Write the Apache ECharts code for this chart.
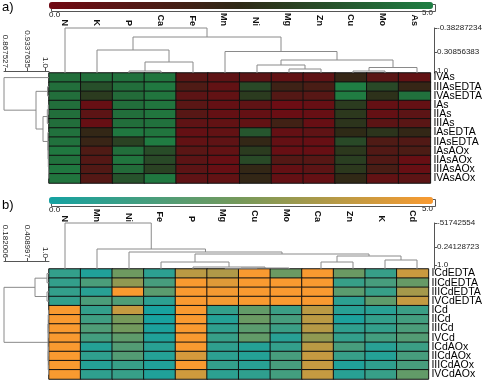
<!DOCTYPE html>
<html><head><meta charset="utf-8">
<script src="https://cdn.jsdelivr.net/npm/echarts@6/dist/echarts.min.js"></script>
<style>html,body{margin:0;padding:0;background:#fff}#c{width:485px;height:383px}</style>
</head><body><div id="c"></div>
<script>
// ---------- panel a) ----------
const colsA = ['N','K','P','Ca','Fe','Mn','Ni','Mg','Zn','Cu','Mo','As'];
const rowsA = ['IVAs','IIIAsEDTA','IVAsEDTA','IAs','IIAs','IIIAs','IAsEDTA','IIAsEDTA','IAsAOx','IIAsAOx','IIIAsAOx','IVAsAOx'];
const valuesA = [
  [4.5,4.5,4.6,4.7,0.9,0.7,0.8,0.6,0.7,2.2,0.9,0.6],
  [4.5,3.6,4.5,4.8,1.3,0.6,3.4,1.9,1.5,5.0,3.4,2.2],
  [4.5,3.0,4.4,4.7,0.8,0.6,3.0,1.1,1.0,4.9,2.7,4.6],
  [4.5,0.4,4.5,4.7,0.9,0.5,0.7,0.2,0.4,3.0,0.5,0.5],
  [4.5,0.8,4.5,4.7,1.0,0.5,0.5,0.3,0.4,2.9,0.5,0.8],
  [4.5,0.4,4.5,4.6,0.7,0.6,0.6,1.8,0.4,2.8,0.8,0.9],
  [4.6,2.3,4.8,4.7,0.5,0.6,3.8,0.5,0.7,2.5,2.8,2.3],
  [4.6,2.1,3.2,4.9,0.6,0.7,2.3,0.5,0.4,3.4,1.3,1.2],
  [4.8,1.3,4.5,3.5,0.9,0.6,3.0,0.4,0.4,2.9,1.2,1.4],
  [4.6,1.1,4.7,3.4,0.8,0.4,3.4,1.1,1.0,3.1,1.2,0.4],
  [4.8,1.2,4.4,3.2,0.8,0.4,2.3,0.5,0.8,2.9,1.5,0.4],
  [4.7,1.1,3.7,4.8,0.7,0.6,2.3,0.5,0.5,2.4,0.6,0.8]
];
// merges: [childA, childB, height]; leaves 0..11, internal nodes numbered 12.. in order
const colTreeA = [[2,3,2],[12,4,11],[1,13,23],[7,8,4],[6,15,8],[9,10,2],[17,11,5.5],[16,18,13],[5,19,21.5],[14,20,36],[0,21,45]];
const rowTreeA = [[3,4,0.7],[12,5,1.7],[10,11,0.3],[9,14,0.5],[8,15,0.7],[7,16,0.9],[6,17,1.1],[13,18,6],[1,2,1.5],[20,19,13],[0,21,45]];
const colScaleTicksA = [2, 21, 45];
const colScaleLabelsA = ['1.0', '0.30856383', '-0.38287234'];
const rowScaleTicksA = [4, 22, 44];
const rowScaleLabelsA = ['1.0', '0.9337635', '0.867527'];

// ---------- panel b) ----------
const colsB = ['N','Mn','Ni','Fe','P','Mg','Cu','Mo','Ca','Zn','K','Cd'];
const rowsB = ['ICdEDTA','IICdEDTA','IIICdEDTA','IVCdEDTA','ICd','IICd','IIICd','IVCd','ICdAOx','IICdAOx','IIICdAOx','IVCdAOx'];
const valuesB = [
  [0.8,0.3,2.3,0.6,3.8,3.6,5.0,2.2,5.0,2.2,0.9,4.1],
  [0.8,1.4,3.0,1.3,5.0,4.5,5.0,5.0,5.0,0.9,1.3,2.1],
  [0.8,0.5,5.0,1.8,5.0,4.9,5.0,5.0,5.0,1.8,0.9,3.4],
  [0.8,1.4,1.5,0.6,5.0,4.9,5.0,5.0,5.0,0.6,1.9,4.0],
  [5.0,0.8,4.0,0.1,5.0,0.8,2.0,1.0,3.8,0.5,0.5,1.0],
  [5.0,1.1,2.5,0.1,5.0,0.4,2.2,1.3,3.8,0.2,0.8,1.2],
  [5.0,1.5,2.4,0.2,5.0,0.7,1.8,1.0,3.7,0.7,0.8,1.4],
  [5.0,1.2,1.9,0.3,5.0,0.9,2.0,0.5,3.0,0.8,1.2,1.6],
  [5.0,0.4,1.6,0.5,5.0,0.7,0.4,0.8,3.8,1.3,0.5,1.0],
  [5.0,0.7,1.6,0.4,4.3,0.6,0.4,1.3,4.0,0.9,0.4,1.3],
  [5.0,0.4,0.9,0.3,5.0,0.8,0.5,1.3,4.0,0.3,0.7,1.3],
  [5.0,0.7,0.9,0.3,4.2,0.6,0.7,1.2,4.0,0.5,0.9,2.0]
];
const colTreeB = [[5,6,0.3],[12,7,1],[4,13,2],[3,14,7],[8,9,7],[10,11,9],[16,17,13],[15,18,15],[2,19,17],[1,20,20],[0,21,46]];
const rowTreeB = [[0,1,2],[2,3,2],[4,5,0.5],[6,7,0.5],[8,9,0.5],[10,11,0.5],[14,15,0.8],[16,17,0.8],[18,19,1],[12,13,14],[21,20,45]];
const colScaleTicksB = [4, 22, 46];
const colScaleLabelsB = ['1.0', '0.24128723', '-51742554'];
const rowScaleTicksB = [4, 22, 44];
const rowScaleLabelsB = ['1.0', '0.408997', '0.182006'];

const colorsA = ['#720a14', '#2e2a16', '#1f7f44'];
const colorsB = ['#14a2a2', '#76995a', '#f99a30'];

const FONT = 'Liberation Sans, Arial, sans-serif';
const LINE = '#8a8a8a';

function heatData(vals) {
  const d = [];
  vals.forEach((row, r) => row.forEach((v, c) => d.push([c, r, v])));
  return d;
}
function treeSegs(merges, n) {
  const pos = [], hgt = [];
  for (let i = 0; i < n; i++) { pos[i] = i; hgt[i] = 0; }
  return merges.map((m, k) => {
    const [a, b, h] = m, id = n + k;
    pos[id] = (pos[a] + pos[b]) / 2; hgt[id] = h;
    return [[pos[a], hgt[a]], [pos[a], h], [pos[b], h], [pos[b], hgt[b]]];
  });
}
function dendroSeries(segs, axisIdx, isRow) {
  const toXY = p => isRow ? [p[1], p[0]] : p;
  return {
    type: 'custom', xAxisIndex: axisIdx, yAxisIndex: axisIdx, silent: true, clip: false,
    data: segs.map(s => toXY(s[1])),
    renderItem: (params, api) => ({
      type: 'polyline',
      shape: { points: segs[params.dataIndex].map(p => api.coord(toXY(p))) },
      style: { stroke: LINE, lineWidth: 1, fill: null }
    })
  };
}
function labelFrom(ticks, labels) {
  return v => { const i = ticks.findIndex(t => Math.abs(t - v) < 1e-6); return i >= 0 ? labels[i] : ''; };
}
const hidden = { show: false };

function heatX(cats, gi) {
  return { type: 'category', gridIndex: gi, data: cats, position: 'top',
    axisLine: hidden, axisTick: hidden, splitLine: hidden,
    axisLabel: { rotate: 90, margin: 47, fontSize: 9, fontWeight: 'bold', color: '#111', fontFamily: FONT, interval: 0 } };
}
function heatY(cats, gi) {
  return { type: 'category', gridIndex: gi, data: cats, inverse: true, position: 'right',
    axisLine: hidden, axisTick: hidden, splitLine: hidden,
    axisLabel: { margin: 3, fontSize: 10.5, color: '#000', fontFamily: FONT, interval: 0 } };
}
function idxAxis(gi, inv) {
  return { type: 'value', gridIndex: gi, min: -0.5, max: 11.5, inverse: inv, show: false };
}
function colScaleAxis(gi, max, ticks, labels) {
  return { type: 'value', gridIndex: gi, min: 0, max: max, position: 'right', offset: 1,
    splitLine: hidden,
    axisLine: { show: true, onZero: false, lineStyle: { color: '#555', width: 1 } },
    axisTick: { show: true, length: 3, customValues: ticks, lineStyle: { color: '#555' } },
    axisLabel: { margin: 3, fontSize: 8, color: '#222', fontFamily: FONT, customValues: ticks, formatter: labelFrom(ticks, labels) } };
}
function rowScaleAxis(gi, offset, ticks, labels) {
  return { type: 'value', gridIndex: gi, min: 0, max: 45, inverse: true, position: 'top', offset: offset,
    splitLine: hidden,
    axisLine: { show: true, onZero: false, lineStyle: { color: '#555', width: 1 } },
    axisTick: { show: true, length: 3, customValues: ticks, lineStyle: { color: '#555' } },
    axisLabel: { rotate: 90, margin: 3, fontSize: 8, color: '#222', fontFamily: FONT, customValues: ticks, formatter: labelFrom(ticks, labels) } };
}

const option = {
  animation: false,
  backgroundColor: '#fff',
  grid: [
    { left: 49, top: 73, width: 384, height: 110 },
    { left: 49, top: 28, width: 384, height: 45 },
    { left: 4, top: 73, width: 45, height: 110 },
    { left: 49, top: 269, width: 384, height: 110 },
    { left: 49, top: 223, width: 384, height: 46 },
    { left: 4, top: 269, width: 45, height: 110 }
  ],
  xAxis: [
    heatX(colsA, 0),
    idxAxis(1, false),
    rowScaleAxis(2, 2, rowScaleTicksA, rowScaleLabelsA),
    heatX(colsB, 3),
    idxAxis(4, false),
    rowScaleAxis(5, 8, rowScaleTicksB, rowScaleLabelsB)
  ],
  yAxis: [
    heatY(rowsA, 0),
    colScaleAxis(1, 45, colScaleTicksA, colScaleLabelsA),
    idxAxis(2, true),
    heatY(rowsB, 3),
    colScaleAxis(4, 46, colScaleTicksB, colScaleLabelsB),
    idxAxis(5, true)
  ],
  visualMap: [
    { type: 'continuous', seriesIndex: 0, min: 0, max: 5, orient: 'horizontal', left: 49, top: 2,
      itemWidth: 7, itemHeight: 384, calculable: false, text: null, padding: 0, hoverLink: false,
      inRange: { color: colorsA } },
    { type: 'continuous', seriesIndex: 1, min: 0, max: 5, orient: 'horizontal', left: 49, top: 197,
      itemWidth: 7, itemHeight: 384, calculable: false, text: null, padding: 0, hoverLink: false,
      inRange: { color: colorsB } }
  ],
  series: [
    { type: 'heatmap', xAxisIndex: 0, yAxisIndex: 0, data: heatData(valuesA),
      itemStyle: { borderColor: '#111', borderWidth: 1 }, emphasis: { disabled: true } },
    { type: 'heatmap', xAxisIndex: 3, yAxisIndex: 3, data: heatData(valuesB),
      itemStyle: { borderColor: '#111', borderWidth: 1 }, emphasis: { disabled: true } },
    dendroSeries(treeSegs(colTreeA, 12), 1, false),
    dendroSeries(treeSegs(rowTreeA, 12), 2, true),
    dendroSeries(treeSegs(colTreeB, 12), 4, false),
    dendroSeries(treeSegs(rowTreeB, 12), 5, true)
  ],
  graphic: [
    { type: 'text', left: 2, top: 1, style: { text: 'a)', font: '13px ' + FONT, fill: '#000' } },
    { type: 'text', left: 2, top: 199, style: { text: 'b)', font: '13px ' + FONT, fill: '#000' } },
    { type: 'text', left: 49, top: 11, style: { text: '0.0', font: '8px ' + FONT, fill: '#111' } },
    { type: 'text', right: 52, top: 9, style: { text: '5.0', font: '8px ' + FONT, fill: '#111' } },
    { type: 'text', left: 49, top: 206, style: { text: '0.0', font: '8px ' + FONT, fill: '#111' } },
    { type: 'text', right: 52, top: 205, style: { text: '5.0', font: '8px ' + FONT, fill: '#111' } },
    { type: 'rect', left: 49, top: 2, shape: { width: 384, height: 7 }, style: { fill: null, stroke: '#555', lineWidth: 1 } },
    { type: 'rect', left: 49, top: 197, shape: { width: 384, height: 7 }, style: { fill: null, stroke: '#555', lineWidth: 1 } }
  ]
};
const chart = echarts.init(document.getElementById('c'), null, { renderer: 'canvas' });
chart.setOption(option);
</script></body></html>
